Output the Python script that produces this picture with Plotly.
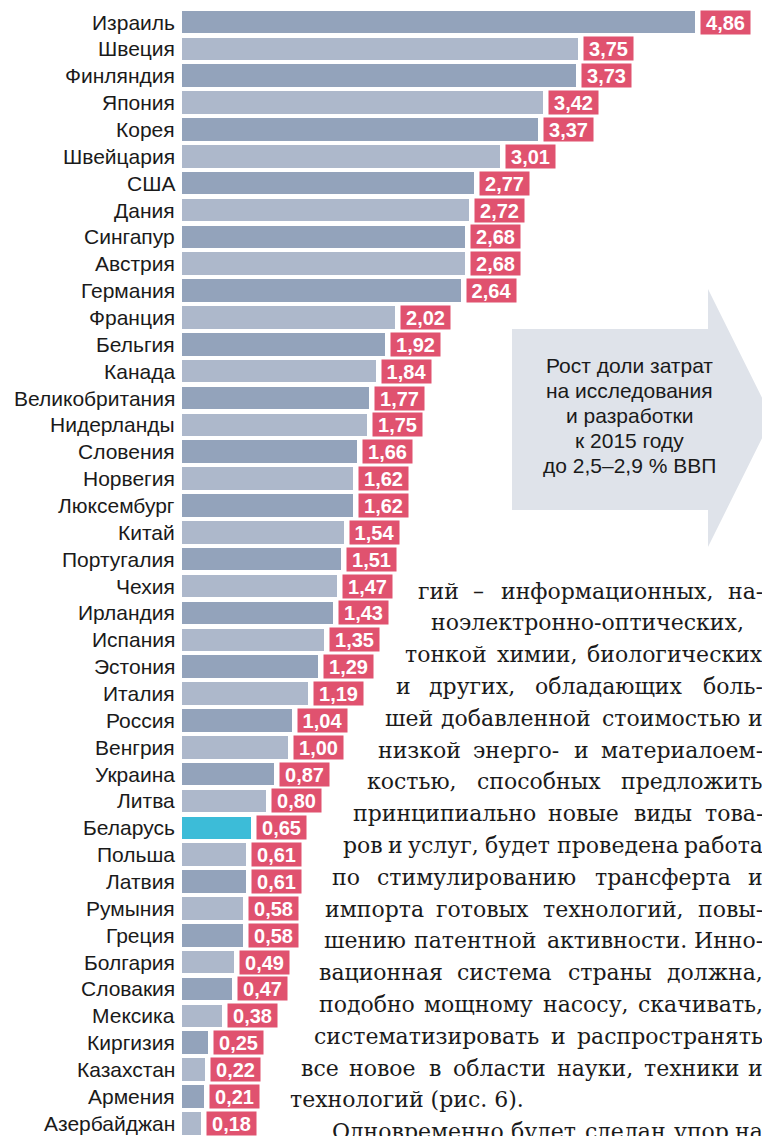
import plotly.graph_objects as go

W, H = 770, 1136

countries = ["Израиль", "Швеция", "Финляндия", "Япония", "Корея", "Швейцария", "США", "Дания",
             "Сингапур", "Австрия", "Германия", "Франция", "Бельгия", "Канада", "Великобритания",
             "Нидерланды", "Словения", "Норвегия", "Люксембург", "Китай", "Португалия", "Чехия",
             "Ирландия", "Испания", "Эстония", "Италия", "Россия", "Венгрия", "Украина", "Литва",
             "Беларусь", "Польша", "Латвия", "Румыния", "Греция", "Болгария", "Словакия", "Мексика",
             "Киргизия", "Казахстан", "Армения", "Азербайджан"]
values = [4.86, 3.75, 3.73, 3.42, 3.37, 3.01, 2.77, 2.72, 2.68, 2.68, 2.64, 2.02, 1.92, 1.84, 1.77,
          1.75, 1.66, 1.62, 1.62, 1.54, 1.51, 1.47, 1.43, 1.35, 1.29, 1.19, 1.04, 1.00, 0.87, 0.80,
          0.65, 0.61, 0.61, 0.58, 0.58, 0.49, 0.47, 0.38, 0.25, 0.22, 0.21, 0.18]
highlight = "Беларусь"

arrow_text = ["Рост доли затрат", "на исследования", "и разработки", "к 2015 году", "до 2,5–2,9 % ВВП"]

body_lines = [
    "гий – информационных, на-",
    "ноэлектронно-оптических,",
    "тонкой химии, биологических",
    "и других, обладающих боль-",
    "шей добавленной стоимостью и",
    "низкой энерго- и материалоем-",
    "костью, способных предложить",
    "принципиально новые виды това-",
    "ров и услуг, будет проведена работа",
    "по стимулированию трансферта и",
    "импорта готовых технологий, повы-",
    "шению патентной активности. Инно-",
    "вационная система страны должна,",
    "подобно мощному насосу, скачивать,",
    "систематизировать и распространять",
    "все новое в области науки, техники и",
    "технологий (рис. 6).",
    "Одновременно будет сделан упор на",
]

# ---- geometry (screen pixels; page body has an 8px margin) ----
OFF = 8
X0_PX, PX_PER_UNIT = 182 - OFF, 105.5
ROW0_PX, ROW_PX = 22 - OFF, 26.86
xr = [-X0_PX / PX_PER_UNIT, (W - X0_PX) / PX_PER_UNIT]
yr = [(H - ROW0_PX) / ROW_PX, -ROW0_PX / ROW_PX]

DARK, LIGHT, HL, RED = "#93a3bb", "#adb8cb", "#3cbcd8", "#e0526f"
colors = []
for i, c in enumerate(countries):
    if c == highlight:
        colors.append(HL)
    else:
        colors.append(DARK if i % 2 == 0 else LIGHT)

idx = list(range(len(countries)))

fig = go.Figure()
fig.add_trace(go.Bar(x=values, y=idx, orientation="h", width=0.84,
                     marker=dict(color=colors, line=dict(width=0)),
                     hoverinfo="skip"))


def px(x):
    return (x - OFF) / W


def py(y):
    return 1 - (y - OFF) / H


ann = []
for i, (c, v) in enumerate(zip(countries, values)):
    ann.append(dict(x=0, y=i, xref="x", yref="y", text=c, showarrow=False,
                    xanchor="right", yanchor="middle", xshift=-5,
                    font=dict(family="Liberation Sans, Arial", size=21, color="#1a1a1a")))
    ann.append(dict(x=v, y=i, xref="x", yref="y", text=f"{v:.2f}".replace(".", ","),
                    showarrow=False, xanchor="left", yanchor="middle", xshift=5,
                    bgcolor=RED, width=47, height=21, borderpad=1, align="center",
                    font=dict(family="Liberation Sans, Arial", size=20, color="white", weight="bold")))

# arrow
x_l, x_b, x_t = 512, 708, 772
y_rt, y_rb, y_ht, y_hb, y_c = 329, 510, 289, 547, 418
path = (f"M {px(x_l)},{py(y_rt)} L {px(x_b)},{py(y_rt)} L {px(x_b)},{py(y_ht)} "
        f"L {px(x_t)},{py(y_c)} L {px(x_b)},{py(y_hb)} L {px(x_b)},{py(y_rb)} "
        f"L {px(x_l)},{py(y_rb)} Z")
shapes = [dict(type="path", xref="paper", yref="paper", path=path,
               fillcolor="#dfe3ea", line=dict(width=0), layer="below")]

for k, t in enumerate(arrow_text):
    ann.append(dict(x=px(629), y=py(366 + 24.8 * k), xref="paper", yref="paper", text=t,
                    showarrow=False, xanchor="center", yanchor="middle",
                    font=dict(family="Liberation Sans, Arial", size=21, color="#1a1a1a")))

# ---- body text, justified word by word ----
FS = 22
CW = {"а": .596, "б": .61, "в": .60, "г": .53, "д": .66, "е": .592, "ж": .90, "з": .54, "и": .66,
      "й": .66, "к": .62, "л": .64, "м": .77, "н": .66, "о": .602, "п": .66, "р": .64, "с": .56,
      "т": .55, "у": .565, "ф": .82, "х": .564, "ц": .67, "ч": .63, "ш": .94, "щ": .95, "ъ": .68,
      "ы": .87, "ь": .60, "э": .56, "ю": .88, "я": .63, ",": .318, ".": .318, "-": .338,
      "–": .5, "(": .39, ")": .39, "6": .636, " ": .318, "И": .80, "О": .80}


def wpx(s):
    return sum(CW.get(ch, .62) for ch in s) * FS


lefts = [416, 410, 403, 394, 383, 376, 365, 351, 341, 330, 323, 322, 317, 317, 312, 299, 288, 330]
RIGHT = 765
LINE0, LINE_PX = 591, 31.8
tfont = dict(family="DejaVu Serif", size=FS, color="#1a1a1a")
for k, t in enumerate(body_lines):
    yk = py(LINE0 + LINE_PX * k)
    words = t.split(" ")
    L = lefts[k]
    if k == 16:
        ann.append(dict(x=px(L), y=yk, xref="paper", yref="paper", text=t, showarrow=False,
                        xanchor="left", yanchor="middle", font=tfont))
        continue
    if len(words) == 1:
        ann.append(dict(x=px((L + RIGHT) / 2), y=yk, xref="paper", yref="paper", text=t,
                        showarrow=False, xanchor="center", yanchor="middle", font=tfont))
        continue
    ws = [wpx(w) for w in words]
    gap = (RIGHT - L - sum(ws)) / (len(words) - 1)
    pos = L
    for j, (w, ew) in enumerate(zip(words, ws)):
        if j == 0:
            xa, xx = "left", L
        elif j == len(words) - 1:
            xa, xx = "right", RIGHT
        else:
            xa, xx = "center", pos + ew / 2
        ann.append(dict(x=px(xx), y=yk, xref="paper", yref="paper", text=w, showarrow=False,
                        xanchor=xa, yanchor="middle", font=tfont))
        pos += ew + gap

fig.update_layout(
    width=W, height=H, autosize=False,
    margin=dict(l=0, r=0, t=0, b=0),
    paper_bgcolor="white", plot_bgcolor="white",
    showlegend=False, bargap=0,
    xaxis=dict(range=xr, visible=False, fixedrange=True),
    yaxis=dict(range=yr, visible=False, fixedrange=True),
    annotations=ann, shapes=shapes,
)

fig.write_html("out.html")
